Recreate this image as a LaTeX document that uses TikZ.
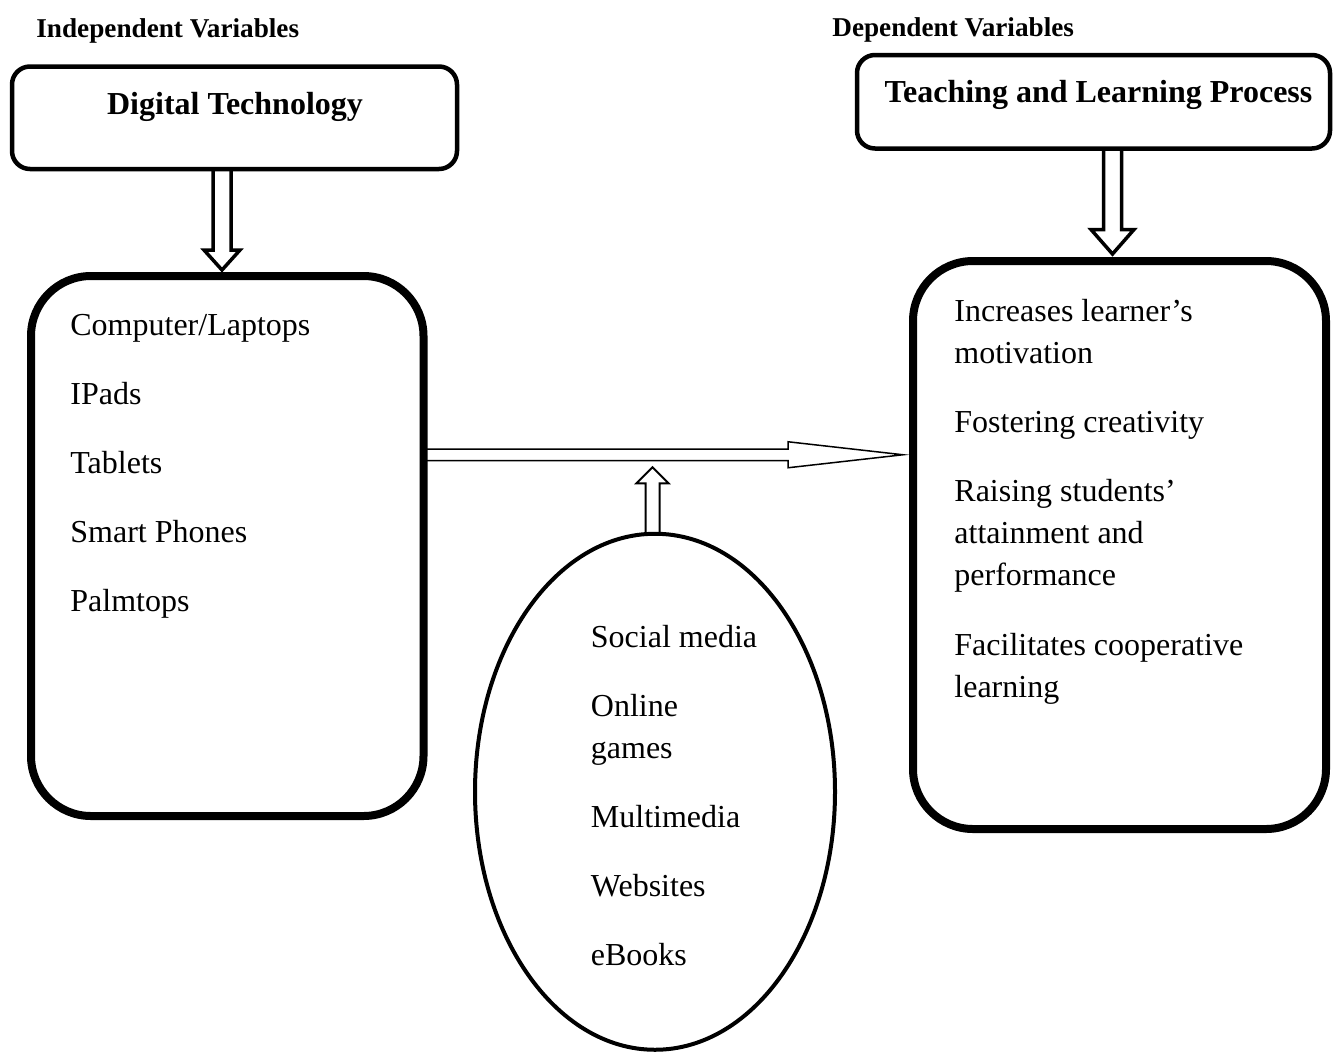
\documentclass[tikz,border=0pt]{standalone}
\usepackage{fontspec}
\setmainfont{Liberation Serif}
\usetikzlibrary{calc, shapes.geometric}

\tikzset{
  headbox/.style={draw, line width=2.25pt, rounded corners=9pt, inner sep=0pt, outer sep=0pt},
  bigbox/.style={draw, line width=4pt, rounded corners=30pt, inner sep=0pt, outer sep=0pt},
  hollow/.style={draw, line join=miter},
  % base = baseline of the last line
  item/.style={anchor=base west, align=left, inner sep=0pt, font=\fontsize{16}{21}\selectfont},
  title/.style={anchor=base, inner sep=0pt, font=\fontsize{16}{19}\selectfont\bfseries},
  vartitle/.style={anchor=base west, inner sep=0pt, font=\fontsize{13.6}{16}\selectfont\bfseries},
}

\begin{document}
\begin{tikzpicture}[x=0.5pt, y=-0.5pt]
  \useasboundingbox (0,0) rectangle (1333,1051);

  % headings
  \node[vartitle] (indep) at (36,37) {Independent Variables};
  \node[vartitle] (dep) at (832,36) {Dependent Variables};

  % top boxes
  \node[headbox, minimum width=222.5pt, minimum height=51.25pt] (dt) at (234.5,117.75) {};
  \node[title] (dtname) at (235,114) {Digital Technology};
  \node[headbox, minimum width=236.5pt, minimum height=46.75pt] (tlp) at (1093.5,101.75) {};
  \node[title] (tlpname) at (1098.5,102) {Teaching and Learning Process};

  % main boxes and the ellipse
  \node[bigbox, minimum width=196.25pt, minimum height=270pt] (lbox) at (227.25,546) {};
  \node[bigbox, minimum width=206.5pt, minimum height=284pt] (rbox) at (1119.5,545) {};
  \node[ellipse, draw, line width=2pt, inner sep=0pt, outer sep=0pt,
        minimum width=180pt, minimum height=258pt] (tools) at (655,791.75) {};

  % devices
  \node[item] (comp) at (70,335) {Computer/Laptops};
  \node[item] (ipads) at (70,404) {IPads};
  \node[item] (tabs) at (70,473) {Tablets};
  \node[item] (phones) at (70,542) {Smart Phones};
  \node[item] (palm) at (70,611) {Palmtops};

  % tools
  \node[item] (social) at (590.5,647) {Social media};
  \node[item] (games) at (590.5,758) {Online\\games};
  \node[item] (multi) at (590.5,827) {Multimedia};
  \node[item] (webs) at (590.5,896) {Websites};
  \node[item] (ebooks) at (590.5,965) {eBooks};

  % effects
  \node[item] (motiv) at (954,363) {Increases learner’s\\motivation};
  \node[item] (creat) at (954,432) {Fostering creativity};
  \node[item] (attain) at (954,585) {Raising students’\\attainment and\\performance};
  \node[item] (coop) at (954,697) {Facilitates cooperative\\learning};

  % down arrow, left
  \coordinate (d1s) at ($(dt.south)+(-12.5,0)$);
  \coordinate (d1e) at ($(d1s |- lbox.north)+(0,-6)$);
  \draw[hollow, line width=1.75pt] ($(d1s)+(-9,0)$) -- ($(d1e)+(-9,-20)$) -- ($(d1e)+(-18,-20)$)
    -- (d1e) -- ($(d1e)+(18,-20)$) -- ($(d1e)+(9,-20)$) -- ($(d1s)+(9,0)$);

  % down arrow, right
  \coordinate (d2s) at ($(tlp.south)+(19,0)$);
  \coordinate (d2e) at ($(d2s |- rbox.north)+(0,-7)$);
  \draw[hollow, line width=1.75pt] ($(d2s)+(-9,0)$) -- ($(d2e)+(-9,-24.5)$) -- ($(d2e)+(-21.5,-24.5)$)
    -- (d2e) -- ($(d2e)+(21.5,-24.5)$) -- ($(d2e)+(9,-24.5)$) -- ($(d2s)+(9,0)$);

  % long arrow between the boxes
  \coordinate (hmid) at (0,454.75);
  \coordinate (h1s) at (lbox.east |- hmid);
  \coordinate (h1e) at ($(rbox.west |- hmid)+(-10,0)$);
  \draw[hollow, line width=0.75pt] ($(h1s)+(0,-5.75)$) -- ($(h1e)+(-115,-5.75)$) -- ($(h1e)+(-115,-13)$)
    -- (h1e) -- ($(h1e)+(-115,13)$) -- ($(h1e)+(-115,5.75)$) -- ($(h1s)+(0,5.75)$);

  % small arrow up from the ellipse
  \coordinate (u1s) at ($(tools.north)+(-2.5,0)$);
  \draw[hollow, line width=1pt] ($(u1s)+(-7,0)$) -- ++(0,-50.5) -- ++(-9,0) -- ++(16,-16)
    -- ++(16,16) -- ++(-9,0) -- ($(u1s)+(7,0)$);
\end{tikzpicture}
\end{document}
